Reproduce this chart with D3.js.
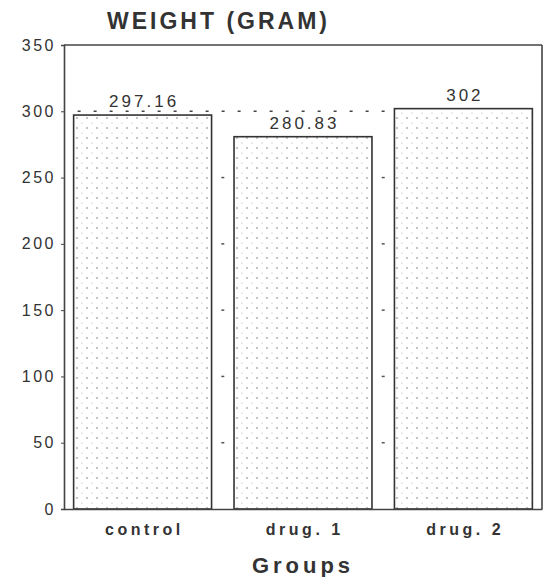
<!DOCTYPE html>
<html lang="en">
<head>
<meta charset="utf-8">
<title>Weight by group</title>
<script src="https://cdn.jsdelivr.net/npm/d3@7"></script>
<style>
  body { margin: 0; background: #fff; }
  svg text { font-family: "Liberation Sans", Arial, sans-serif; fill: #333; }
  .tick-label { font-size: 16px; letter-spacing: 2.5px; }
  .cat-label { font-size: 16px; font-weight: bold; letter-spacing: 3.5px; }
  .val-label { font-size: 17px; letter-spacing: 3px; }
</style>
</head>
<body>
<svg id="chart" width="546" height="577"></svg>
<script>
var groups = ["control", "drug. 1", "drug. 2"];
var weights = [297.16, 280.83, 302];
var valueLabels = ["297.16", "280.83", "302"];
var yTicks = [0, 50, 100, 150, 200, 250, 300, 350];
var refValue = 300;

var svg = d3.select("#chart"),
    margin = {top: 45, right: 4, bottom: 68, left: 64},
    width = +svg.attr("width") - margin.left - margin.right,
    height = +svg.attr("height") - margin.top - margin.bottom,
    g = svg.append("g").attr("transform", "translate(" + margin.left + "," + margin.top + ")");

var x = d3.scaleBand().domain(groups).range([0, width]).paddingInner(0.14).paddingOuter(0.06);
var y = d3.scaleLinear().domain([0, 350]).range([height, 0]);

// dotted fill for bars
var pat = svg.append("defs").append("pattern")
    .attr("id", "dots")
    .attr("patternUnits", "userSpaceOnUse")
    .attr("width", 10).attr("height", 10);
pat.append("rect").attr("width", 10).attr("height", 10).attr("fill", "#fff");
pat.append("circle").attr("cx", 3).attr("cy", 3).attr("r", 0.8).attr("fill", "#7a7a7a");
pat.append("circle").attr("cx", 8).attr("cy", 8).attr("r", 0.6).attr("fill", "#aaa");

// title
svg.append("text")
    .attr("x", 107).attr("y", 29)
    .style("font-size", "23px").style("font-weight", "bold").style("letter-spacing", "3px")
    .text("WEIGHT (GRAM)");

// bars
g.selectAll(".bar")
  .data(weights)
  .enter().append("rect")
    .attr("class", "bar")
    .attr("x", function(d, i) { return x(groups[i]); })
    .attr("y", function(d) { return y(d); })
    .attr("width", x.bandwidth())
    .attr("height", function(d) { return height - y(d); })
    .attr("fill", "url(#dots)")
    .attr("stroke", "#333")
    .attr("stroke-width", 1.6);

// dotted reference line
g.append("line")
    .attr("x1", x(groups[0]) + 4)
    .attr("x2", x(groups[2]))
    .attr("y1", y(refValue)).attr("y2", y(refValue))
    .attr("stroke", "#444")
    .attr("stroke-width", 1.6)
    .attr("stroke-dasharray", "3,13");

// small marks in the gaps between bars
var gapX = [x(groups[0]) + x.bandwidth() + (x(groups[1]) - x(groups[0]) - x.bandwidth()) / 2,
            x(groups[1]) + x.bandwidth() + (x(groups[2]) - x(groups[1]) - x.bandwidth()) / 2];
gapX.forEach(function(gx) {
  g.selectAll(null)
    .data(yTicks.filter(function(t) { return t > 0 && t < 300; }))
    .enter().append("line")
      .attr("x1", gx - 1.5).attr("x2", gx + 1.5)
      .attr("y1", function(d) { return y(d); })
      .attr("y2", function(d) { return y(d); })
      .attr("stroke", "#555").attr("stroke-width", 1.5);
});

// value labels
g.selectAll(".val-label")
  .data(weights)
  .enter().append("text")
    .attr("class", "val-label")
    .attr("text-anchor", "middle")
    .attr("x", function(d, i) { return x(groups[i]) + x.bandwidth() / 2 + 1.5; })
    .attr("y", function(d) { return y(d) - 8; })
    .text(function(d, i) { return valueLabels[i]; });

// frame: top and right
g.append("line").attr("x1", 0).attr("x2", width).attr("y1", 0).attr("y2", 0)
    .attr("stroke", "#444").attr("stroke-width", 1.6);
g.append("line").attr("x1", width).attr("x2", width).attr("y1", 0).attr("y2", height)
    .attr("stroke", "#444").attr("stroke-width", 1.6);

// y axis
var yAxis = g.append("g")
    .call(d3.axisLeft(y).tickValues(yTicks).tickSize(3).tickPadding(5));
yAxis.select(".domain").attr("stroke", "#444").attr("stroke-width", 1.6);
yAxis.selectAll(".tick line").attr("stroke", "#444");
yAxis.selectAll(".tick text").attr("class", "tick-label").attr("fill", "#333");

// x axis
var xAxis = g.append("g")
    .attr("transform", "translate(0," + height + ")")
    .call(d3.axisBottom(x).tickSize(0).tickPadding(15));
xAxis.select(".domain").attr("stroke", "#444").attr("stroke-width", 1.6);
xAxis.selectAll(".tick text").attr("class", "cat-label").attr("fill", "#333")
    .attr("dx", "1.75px");

// let the css classes set the axis fonts
svg.selectAll("g[font-size]").attr("font-size", null).attr("font-family", null);

// x axis title
svg.append("text")
    .attr("x", 303).attr("y", 573)
    .attr("text-anchor", "middle")
    .style("font-size", "22px").style("font-weight", "bold").style("letter-spacing", "4px")
    .text("Groups");
</script>
</body>
</html>
